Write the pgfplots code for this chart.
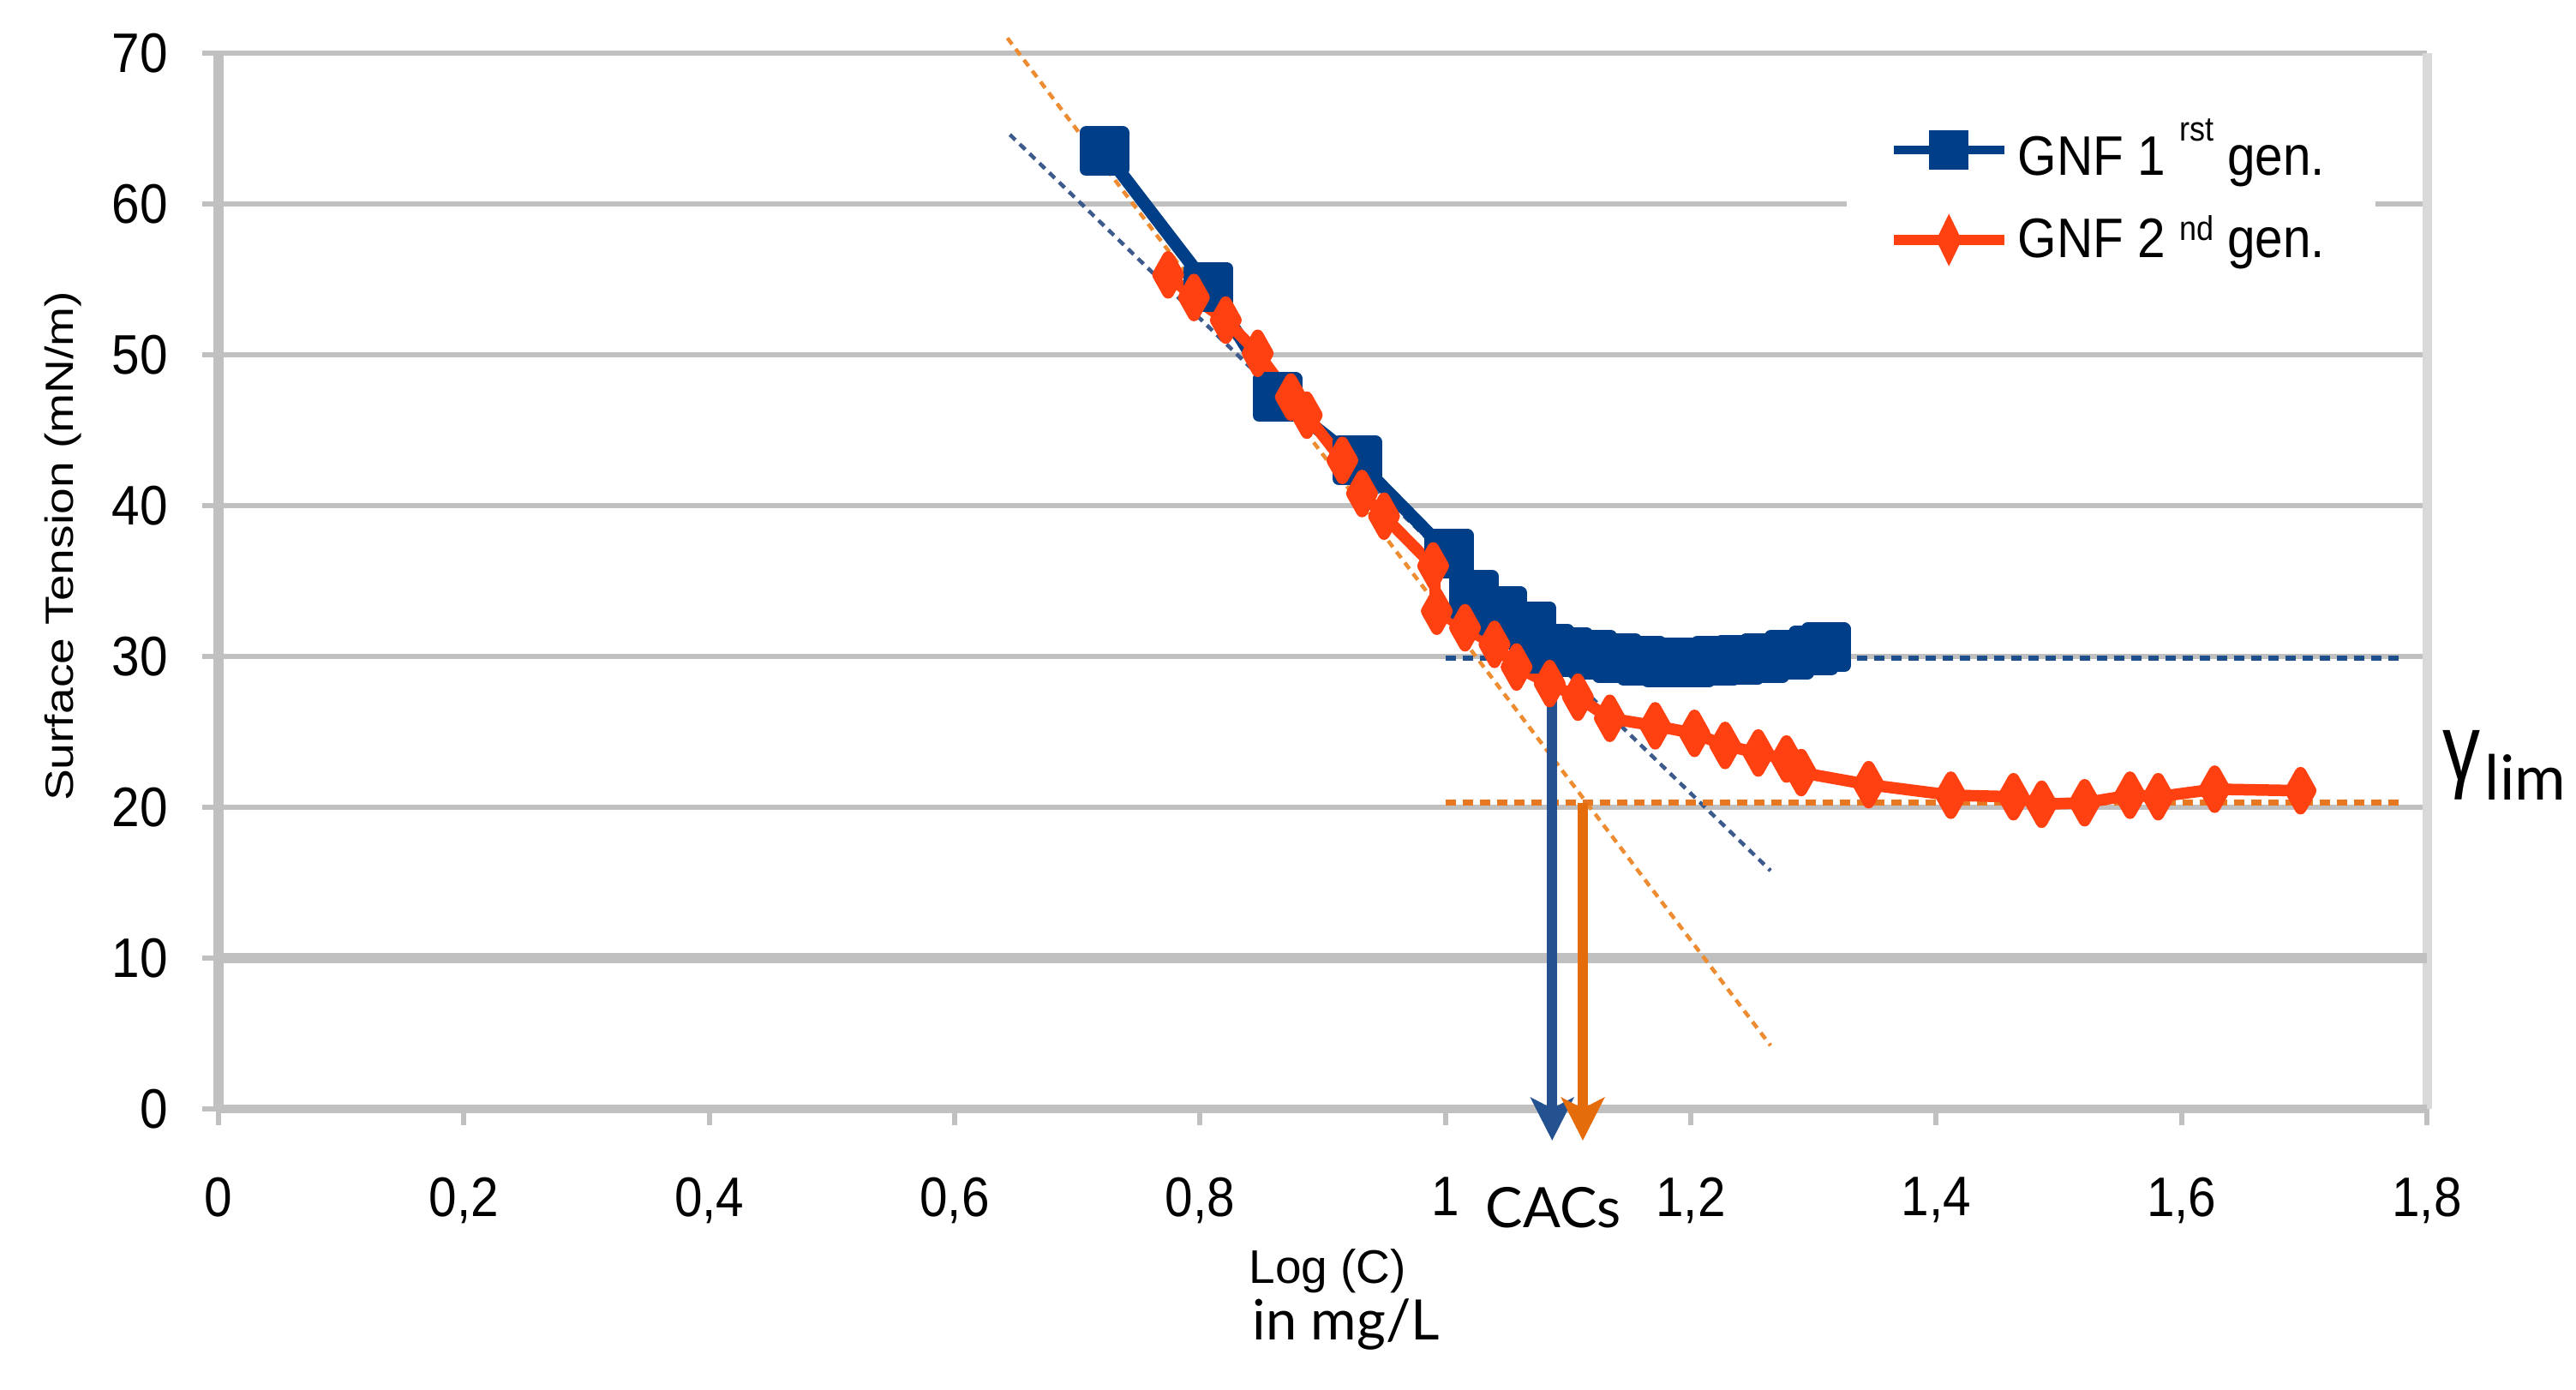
\documentclass[border=0pt]{standalone}
\usepackage{fontspec}
\setmainfont{Liberation Sans}
\newfontfamily\tickfont{Liberation Sans}[FakeStretch=0.9]
\newfontfamily\ylabfont{Liberation Sans}[FakeStretch=1.2]
\newfontfamily\gillfont{Lato}
\usepackage{graphicx}
\usepackage{pgfplots}
\pgfplotsset{compat=1.18}
\usetikzlibrary{arrows.meta}
\definecolor{serA}{RGB}{0,63,135}
\definecolor{serB}{RGB}{255,64,16}
\definecolor{gridc}{RGB}{192,192,192}
\definecolor{frameR}{RGB}{217,217,217}
\definecolor{arrA}{RGB}{36,82,145}
\definecolor{arrB}{RGB}{228,108,10}
\definecolor{dashA}{RGB}{31,78,140}
\definecolor{dashB}{RGB}{232,119,34}
\definecolor{tanA}{RGB}{60,90,140}
\definecolor{tanB}{RGB}{238,140,50}

\pgfplotstableread{
x y
0.722 63.5
0.807 54.5
0.863 47.2
0.928 43.0
1.003 36.8
1.023 34.1
1.046 33.0
1.070 32.0
1.085 30.5
1.100 30.3
1.120 30.1
1.140 29.9
1.160 29.7
1.180 29.6
1.200 29.6
1.220 29.7
1.240 29.8
1.260 29.9
1.280 30.1
1.300 30.4
1.310 30.6
}\genone

\pgfplotstableread{
x y
0.774 55.3
0.795 53.8
0.821 52.3
0.847 50.1
0.874 47.2
0.887 46.0
0.916 43.0
0.932 40.8
0.950 39.3
0.990 36.0
0.993 33.0
1.016 31.9
1.040 30.8
1.058 29.3
1.085 28.2
1.108 27.3
1.134 25.9
1.171 25.4
1.203 24.9
1.228 24.1
1.255 23.6
1.278 23.2
1.290 22.3
1.345 21.5
1.412 20.8
1.463 20.7
1.486 20.2
1.521 20.3
1.558 20.8
1.581 20.7
1.627 21.2
1.697 21.1
}\gentwo

\begin{document}
\begin{tikzpicture}
\begin{axis}[
  width=515.4pt, height=246.4pt, scale only axis,
  xmin=0, xmax=1.8, ymin=0, ymax=70,
  clip=false,
  axis line style={draw=none},
  xtick={0,0.2,0.4,0.6,0.8,1,1.2,1.4,1.6,1.8},
  xticklabels={0,{0,2},{0,4},{0,6},{0,8},1,{1,2},{1,4},{1,6},{1,8}},
  ytick={0,10,20,30,40,50,60,70},
  yticklabels={0,10,20,30,40,50,60,70},
  ymajorgrids, grid style={gridc, line width=1.2pt},
  tick align=outside, xtick pos=bottom, ytick pos=left,
  major tick length=3.8pt,
  tick style={gridc, line width=1.2pt},
  ticklabel style={font=\tickfont\fontsize{13}{13}\selectfont, inner sep=0pt},
  xticklabel style={yshift=-12pt},
  yticklabel style={xshift=-7.8pt},
  xlabel={Log (C)},
  xlabel style={font=\fontsize{11}{11}\selectfont, at={(axis description cs:0.5022,0)}, anchor=base, yshift=-40.6pt, inner sep=0pt},
  ylabel={Surface Tension (mN/m)},
  ylabel style={font=\ylabfont\fontsize{9.2}{9.2}\selectfont, at={(axis description cs:-0.0702,0.533)}, anchor=center},
  legend cell align=left,
  legend image code/.code={\draw[mark repeat=2, mark phase=2, #1] plot coordinates {(0pt,0pt) (12.9pt,0pt) (25.8pt,0pt)};},
  legend style={at={(axis description cs:0.7369,0.869)}, anchor=west, draw=none, fill=white,
    inner xsep=9.8pt, inner ysep=7pt, row sep=4pt,
    font=\tickfont\fontsize{13}{13}\selectfont},
]
% frame lines
\draw[gridc, line width=2.4pt] (rel axis cs:0,0) -- (rel axis cs:0,1);
\draw[frameR, line width=2.2pt] (rel axis cs:1,0) -- (rel axis cs:1,1);
\draw[gridc, line width=2pt] (rel axis cs:0,0) -- (rel axis cs:1,0);
\draw[gridc, line width=2.4pt] (axis cs:0,10) -- (axis cs:1.8,10);

\addlegendimage{serA, line width=2pt, mark=square*, mark size=3.6pt}
\addlegendentry{GNF 1 \raisebox{8pt}{\fontsize{8}{8}\selectfont rst} gen.}
\addlegendimage{serB, line width=2.3pt, mark=diamond*, mark size=3.5pt, mark options={xscale=0.65}}
\addlegendentry{GNF 2 \raisebox{4pt}{\fontsize{8}{8}\selectfont nd} gen.}

% tangent lines
\addplot[tanA, line width=0.9pt, dash pattern=on 1.8pt off 1.4pt, forget plot] coordinates {(0.645,64.6) (1.265,15.8)};
\addplot[tanB, line width=0.9pt, dash pattern=on 1.8pt off 1.4pt, forget plot] coordinates {(0.643,71.0) (1.265,4.2)};
% limit lines
\addplot[dashA, line width=1.3pt, dash pattern=on 2.4pt off 1.6pt, forget plot] coordinates {(1.0,29.9) (1.782,29.9)};
\addplot[dashB, line width=1.3pt, dash pattern=on 2.4pt off 1.6pt, forget plot] coordinates {(1.0,20.3) (1.782,20.3)};

% series
\addplot[serA, line width=3pt, line join=round, mark=square*, mark size=4.3pt, mark options={solid}, forget plot] table {\genone};
\addplot[serB, line width=2.7pt, line join=round, mark=diamond*, mark size=4.2pt, mark options={solid, xscale=0.75}, forget plot] table {\gentwo};

% arrows
\addplot[arrA, line width=2.4pt, -{Stealth[length=10pt, width=10pt, inset=2.5pt]}, forget plot] coordinates {(1.087,29.8) (1.087,-2.1)};
\addplot[arrB, line width=2.4pt, -{Stealth[length=10pt, width=10pt, inset=2.5pt]}, forget plot] coordinates {(1.112,20.3) (1.112,-2.1)};

\node[font=\gillfont\fontsize{13}{13}\selectfont, anchor=base, inner sep=0pt, yshift=-27.6pt] at (axis cs:1.088,0) {CACs};
\node[font=\gillfont\fontsize{13}{13}\selectfont, anchor=base, inner sep=0pt, yshift=-53.8pt] at (axis cs:0.919,0) {in mg/L};
\node[anchor=base west, inner sep=0pt] at (axis cs:1.8125,20.5) {\raisebox{4.6pt}{\scalebox{0.8}[1]{\fontsize{22}{22}\selectfont γ}}\kern1pt{\gillfont\fontsize{14.5}{14.5}\selectfont lim}};
\end{axis}
\pgfresetboundingbox
\path[use as bounding box] (-51pt,-65.4pt) rectangle (550.2pt,258.8pt);
\end{tikzpicture}
\end{document}
